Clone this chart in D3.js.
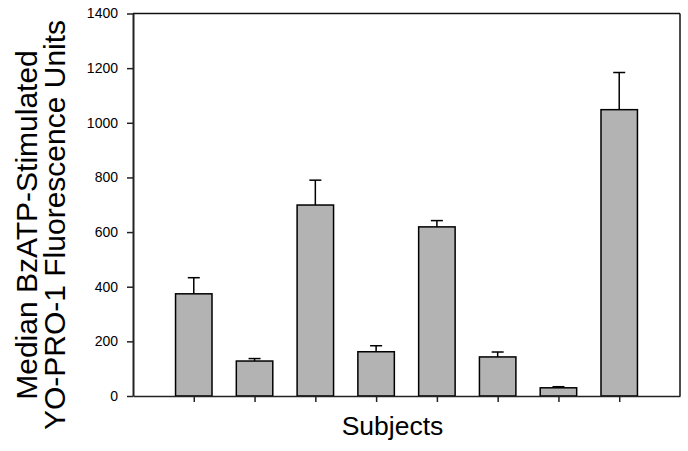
<!DOCTYPE html>
<html>
<head>
<meta charset="utf-8">
<script src="https://cdn.jsdelivr.net/npm/d3@7"></script>
<style>
  html, body { margin: 0; padding: 0; background: #fff; }
  svg { display: block; }
  text { font-family: "Liberation Sans", Arial, sans-serif; fill: #000; }
</style>
</head>
<body>
<svg id="chart" width="688" height="451"></svg>
<script>
// Data
const subjects = ["S1", "S2", "S3", "S4", "S5", "S6", "S7", "S8"];
const medians  = [374, 128, 699, 162, 619, 143, 30, 1048];
const errors   = [59, 9, 91, 22, 23, 18, 4, 136];
const yTicks   = [0, 200, 400, 600, 800, 1000, 1200, 1400];

(function () {
const svg = d3.select("#chart");
const pLeft = 133, pRight = 680, pTop = 13.5, pBottom = 396;

const x = d3.scalePoint().domain(subjects).range([pLeft, pRight]).padding(1);
const y = d3.scaleLinear().domain([0, 1400]).range([pBottom, pTop]);
const barW = x.step() * 0.6;

// frame top & right
svg.append("line").attr("x1", pLeft).attr("x2", pRight).attr("y1", pTop).attr("y2", pTop)
  .attr("stroke", "#111").attr("stroke-width", 1.5);
svg.append("line").attr("x1", pRight).attr("x2", pRight).attr("y1", pTop).attr("y2", pBottom)
  .attr("stroke", "#111").attr("stroke-width", 1.5);

// bars
const data = subjects.map((s, i) => ({ s, v: medians[i], e: errors[i] }));
svg.append("g").selectAll("rect").data(data).join("rect")
  .attr("x", d => x(d.s) - barW / 2)
  .attr("y", d => y(d.v))
  .attr("width", barW)
  .attr("height", d => y(0) - y(d.v))
  .attr("fill", "#b3b3b3")
  .attr("stroke", "#000")
  .attr("stroke-width", 1.5);

// error bars
const eg = svg.append("g").attr("stroke", "#000").attr("stroke-width", 1.5);
eg.selectAll("line.v").data(data).join("line").attr("class", "v")
  .attr("x1", d => x(d.s)).attr("x2", d => x(d.s))
  .attr("y1", d => y(d.v)).attr("y2", d => y(d.v + d.e));
eg.selectAll("line.c").data(data).join("line").attr("class", "c")
  .attr("x1", d => x(d.s) - 6).attr("x2", d => x(d.s) + 6)
  .attr("y1", d => y(d.v + d.e)).attr("y2", d => y(d.v + d.e));

// y axis
const yAxis = svg.append("g").attr("transform", `translate(${pLeft},0)`)
  .call(d3.axisLeft(y).tickValues(yTicks).tickFormat(d3.format("d"))
    .tickSize(6).tickSizeOuter(0).tickPadding(9));
yAxis.select(".domain").attr("stroke", "#222").attr("stroke-width", 2);
yAxis.selectAll(".tick line").attr("stroke", "#222").attr("stroke-width", 1.5);
yAxis.selectAll(".tick text").attr("font-size", 14).attr("font-family", "Liberation Sans, Arial, sans-serif").attr("fill", "#000");

// x axis
const xAxis = svg.append("g").attr("transform", `translate(0,${pBottom})`)
  .call(d3.axisBottom(x).tickSize(6).tickSizeOuter(0).tickFormat(""));
xAxis.select(".domain").attr("stroke", "#222").attr("stroke-width", 1.5);
xAxis.selectAll(".tick line").attr("stroke", "#222").attr("stroke-width", 1.5);

// axis titles
svg.append("text").attr("x", 392.5).attr("y", 435).attr("text-anchor", "middle")
  .attr("font-size", 26.5).text("Subjects");

const yt = svg.append("text").attr("transform", "translate(0,225) rotate(-90)")
  .attr("text-anchor", "middle").attr("font-size", 30);
yt.append("tspan").attr("x", 0).attr("y", 37).text("Median BzATP-Stimulated");
yt.append("tspan").attr("x", 0).attr("y", 65).text("YO-PRO-1 Fluorescence Units");
})();
</script>
</body>
</html>
